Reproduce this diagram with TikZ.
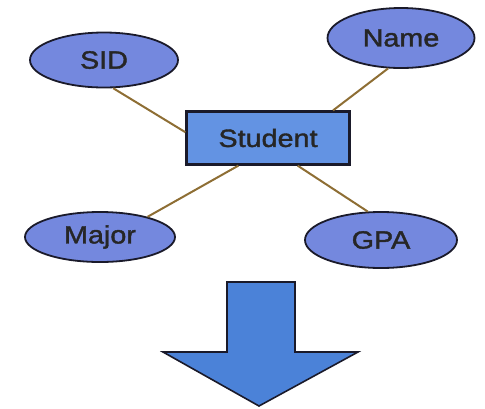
\documentclass[tikz,border=0pt]{standalone}
\usepackage{fontspec}
\newfontfamily\lblfont[FakeStretch=1.15,FakeBold=1.5]{Liberation Sans}
\usetikzlibrary{shapes.geometric}
\definecolor{ellfill}{HTML}{7488DE}
\definecolor{rectfill}{HTML}{6393E3}
\definecolor{arrowfill}{HTML}{4B82D8}
\definecolor{linkcol}{HTML}{8E6E34}
\definecolor{edge}{HTML}{1A1A2A}
\tikzset{
  attr/.style={ellipse, draw=edge, line width=1.8pt, fill=ellfill, inner sep=0pt,
    minimum width=148pt, minimum height=55pt, text=black!85, font=\lblfont\fontsize{25}{25}\selectfont},
  entity/.style={rectangle, draw=edge, line width=2.2pt, fill=rectfill, inner sep=0pt,
    minimum width=163pt, minimum height=53pt, text=black!85, font=\lblfont\fontsize{25}{25}\selectfont},
  link/.style={draw=linkcol, line width=2pt},
  bigarrow/.style={draw=edge, line width=1.6pt, fill=arrowfill, line join=miter}
}
\begin{document}
\begin{tikzpicture}[x=1pt,y=-1pt]
\useasboundingbox (0,0) rectangle (485,408);
\node[entity] (student) at (268,138) {Student};
\node[attr] (sid) at (104,60) {SID};
\node[attr, minimum width=147pt, minimum height=60pt] (name) at (401,38) {Name};
\node[attr, minimum width=150pt, minimum height=50pt] (major) at (100,237) {Major};
\node[attr, minimum width=152pt, minimum height=56pt] (gpa) at (381,240) {GPA};
\draw[link] (sid.-72) -- (student.176);
\draw[link] (name.-113) -- (student.23);
\draw[link] (major.23) -- (student.-137);
\draw[link] (gpa.115) -- (student.-43);
\draw[bigarrow] (227,282) -- (295,282) -- (295,352) -- (358,352) -- (259,406)
  -- (163,352) -- (227,352) -- cycle;
\end{tikzpicture}
\end{document}
